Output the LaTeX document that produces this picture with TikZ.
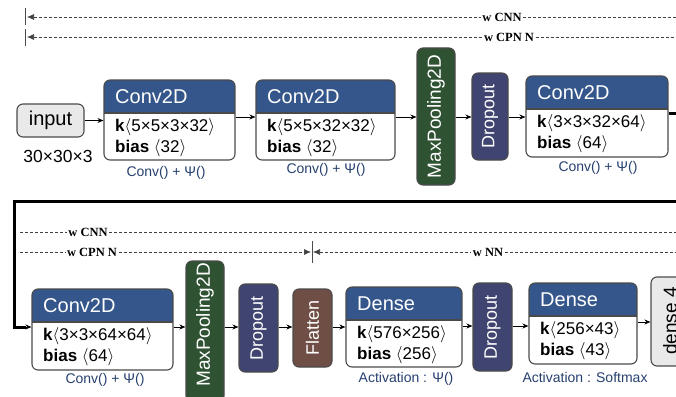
\documentclass[tikz,border=0pt]{standalone}
\usepackage{fontspec}
\setmainfont{Liberation Sans}
\newfontfamily\lblfont{Liberation Serif}
\usetikzlibrary{arrows.meta,fit}
\definecolor{hdr}{HTML}{34568B}
\definecolor{bd}{HTML}{4A4A4A}
\definecolor{mpg}{HTML}{2F5233}
\definecolor{dpc}{HTML}{404470}
\definecolor{flc}{HTML}{6E4E45}
\definecolor{lg}{HTML}{E9E9E9}
\definecolor{capc}{HTML}{26406E}
\newcommand\fs[1]{\fontsize{#1}{#1}\selectfont}
\newcommand\convbox[9]{%
 \begin{scope}
 \clip[rounded corners=6pt] (#2,#3) rectangle (#4,#5);
 \fill[white] (#2,#3) rectangle (#4,#5);
 \fill[hdr] (#2,#3) rectangle (#4,#6);
 \end{scope}
 \draw[bd, line width=1.1pt] (#2,#6) -- (#4,#6);
 \node[draw=bd, line width=1.1pt, rounded corners=6pt, inner sep=0pt, fit={(#2,#3) (#4,#5)}] (#1) {};
 \node[anchor=west, text=white, font=\fs{20}, inner sep=0pt] (#1t) at (#2+11, {(#3+#6)/2}) {#7};
 \node[anchor=west, font=\fs{17}, inner sep=0pt] (#1a) at (#2+11, #6+14) {#8};
 \node[anchor=west, font=\fs{17}, inner sep=0pt] (#1b) at (#2+11, #6+35) {#9};
}
\begin{document}
\begin{tikzpicture}[x=1pt,y=-1pt,
  arr/.style={-{Stealth[length=6pt,width=5pt]}, line width=1pt, black},
  dsh/.style={line width=0.6pt, dash pattern=on 3pt off 2pt, black!75},
  dtip/.style={{Latex[length=7pt,width=6pt]}-},
  dlbl/.style={fill=white, inner sep=1.5pt, font=\lblfont\bfseries\fs{12.5}},
  vbox/.style={draw=bd, line width=1.1pt, rounded corners=6pt, inner sep=0pt},
  vtext/.style={rotate=90, text=white, font=\fs{18}},
  caplbl/.style={text=capc, font=\fs{14}, inner sep=0pt},
  retpath/.style={line width=3pt, line join=miter},
]
\useasboundingbox (0,0) rectangle (676,396);
\clip (0,0) rectangle (676,396);

% ---------- dashed span lines, top ----------
\draw[line width=0.6pt, black!70] (25,8) -- (25,25) (25,29) -- (25,46);
\node[dlbl] (lw1) at (502,17) {w CNN};
\node[dlbl] (lw2) at (509,37) {w CPN N};
\coordinate (t1s) at (27,17); \coordinate (t1e) at (680,17);
\coordinate (t2s) at (27,37); \coordinate (t2e) at (680,37);
\draw[dsh, dtip] (t1s) -- (lw1.west);
\draw[dsh] (lw1.east) -- (t1e);
\draw[dsh, dtip] (t2s) -- (lw2.west);
\draw[dsh] (lw2.east) -- (t2e);

% ---------- row 1 ----------
\node[vbox, fill=lg, fit={(17,104) (84,137)}] (in) {};
\node[font=\fs{20}] (intx) at (in.center) {input};
\node[font=\fs{17.5}] (insz) at (58,156) {30×30×3};

\convbox{c1}{104}{80}{235}{160}{113}{Conv2D}{\textbf{k}$\langle$5×5×3×32$\rangle$}{\textbf{bias} $\langle$32$\rangle$}
\convbox{c2}{256}{80}{395}{160}{113}{Conv2D}{\textbf{k}$\langle$5×5×32×32$\rangle$}{\textbf{bias} $\langle$32$\rangle$}
\node[vbox, fill=mpg, fit={(417,48) (455,185)}] (mp1) {};
\node[vtext, font=\fs{19}] at (mp1.center) {MaxPooling2D};
\node[vbox, fill=dpc, fit={(472,73) (508,160)}] (dp1) {};
\node[vtext] at (dp1.center) {Dropout};
\convbox{c3}{526}{76}{668}{157}{109}{Conv2D}{\textbf{k}$\langle$3×3×32×64$\rangle$}{\textbf{bias} $\langle$64$\rangle$}

\node[caplbl] (k1) at (166,173) {Conv() + Ψ()};
\node[caplbl] (k2) at (326,170) {Conv() + Ψ()};
\node[caplbl] (k3) at (598,168) {Conv() + Ψ()};

\draw[arr] (in.east) -- (c1.west |- in.east);
\draw[arr] (c1.east |- 0,117) -- (c2.west |- 0,117);
\draw[arr] (c2.east |- 0,117) -- (mp1.west |- 0,117);
\draw[arr] (mp1.east |- 0,117) -- (dp1.west |- 0,117);
\draw[arr] (dp1.east |- 0,117) -- (c3.west |- 0,117);

% ---------- row 2 ----------
\convbox{c4}{32}{289}{173}{370}{322}{Conv2D}{\textbf{k}$\langle$3×3×64×64$\rangle$}{\textbf{bias} $\langle$64$\rangle$}
\node[vbox, fill=mpg, fit={(186,261) (224,402)}] (mp2) {};
\node[vtext, font=\fs{19}] at (205,325) {MaxPooling2D};
\node[vbox, fill=dpc, fit={(239,284) (278,372)}] (dp2) {};
\node[vtext] at (dp2.center) {Dropout};
\node[vbox, fill=flc, fit={(293,289) (332,367)}] (fl) {};
\node[vtext] at (fl.center) {Flatten};
\convbox{d1}{346}{287}{462}{367}{320}{Dense}{\textbf{k}$\langle$576×256$\rangle$}{\textbf{bias} $\langle$256$\rangle$}
\node[vbox, fill=dpc, fit={(473,283) (512,371)}] (dp3) {};
\node[vtext] at (dp3.center) {Dropout};
\convbox{d2}{529}{283}{637}{364}{316}{Dense}{\textbf{k}$\langle$256×43$\rangle$}{\textbf{bias} $\langle$43$\rangle$}
\node[vbox, fill=lg, fit={(651,277) (690,366)}] (d4) {};
\node[rotate=90, font=\fs{19}] at (670,321) {dense 4};

\node[caplbl] (k4) at (105,380) {Conv() + Ψ()};
\node[caplbl] (k5) at (406,379) {Activation : Ψ()};
\node[caplbl] (k6) at (585,377) {Activation : Softmax};

\draw[arr] (c4.east |- 0,327) -- (mp2.west |- 0,327);
\draw[arr] (mp2.east |- 0,327) -- (dp2.west |- 0,327);
\draw[arr] (dp2.east |- 0,327) -- (fl.west |- 0,327);
\draw[arr] (fl.east |- 0,327) -- (d1.west |- 0,327);
\draw[arr] (d1.east |- 0,326) -- (dp3.west |- 0,326);
\draw[arr] (dp3.east |- 0,326) -- (d2.west |- 0,326);
\draw[arr] (d2.east |- 0,322) -- (d4.west |- 0,322);

% ---------- return path ----------
\coordinate (r1) at (680,113);
\coordinate (r2) at (680,201);
\coordinate (l1) at (14,201);
\coordinate (l2) at (14,327);
\draw[retpath] (c3.east |- 0,113) -- (r1);
\draw[retpath] (r2) -- (l1) -- (l2) -- ([xshift=-5pt]c4.west |- 0,327);
\draw[arr] (l2) -- (c4.west |- 0,327);

% ---------- dashed span lines, row 2 ----------
\node[dlbl] (lw3) at (88,232) {w CNN};
\node[dlbl] (lw4) at (92,252) {w CPN N};
\node[dlbl] (lw5) at (488,252) {w NN};
\coordinate (u1s) at (20,232); \coordinate (u1e) at (680,232);
\coordinate (u2s) at (20,252); \coordinate (u2m) at (311,252);
\coordinate (u3m) at (313,252); \coordinate (u3e) at (680,252);
\draw[dsh] (u1s) -- (lw3.west);
\draw[dsh] (lw3.east) -- (u1e);
\draw[dsh] (u2s) -- (lw4.west);
\draw[dsh, -{Latex[length=7pt,width=6pt]}] (lw4.east) -- (u2m);
\draw[dsh, dtip] (u3m) -- (lw5.west);
\draw[dsh] (lw5.east) -- (u3e);
\draw[line width=0.6pt, black!70] (312,241) -- (312,263);
\end{tikzpicture}
\end{document}
